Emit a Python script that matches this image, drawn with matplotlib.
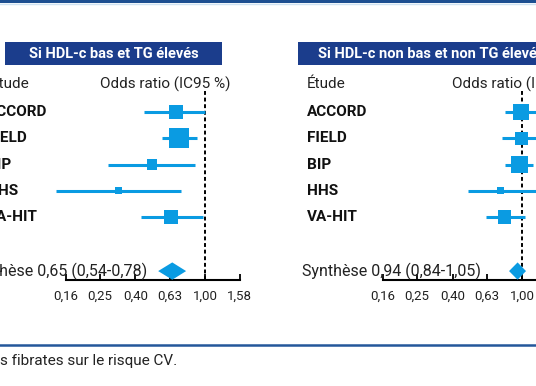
import numpy as np
import matplotlib.pyplot as plt
from matplotlib.patches import Rectangle, Polygon
from matplotlib.transforms import blended_transform_factory
from matplotlib.ticker import NullLocator

plt.rcParams['font.family'] = ['Roboto', 'DejaVu Sans']

# data
etudes = ["ACCORD", "FIELD", "BIP", "HHS", "VA-HIT"]
ticks = [0.16, 0.25, 0.40, 0.63, 1.00, 1.58]
tick_labels = ["0,16", "0,25", "0,40", "0,63", "1,00", "1,58"]

# Si HDL-c bas et TG eleves
or_g = [0.68, 0.71, 0.50, 0.32, 0.64]
bas_g = [0.45, 0.57, 0.28, 0.14, 0.43]
haut_g = [1.00, 0.90, 0.88, 0.73, 0.97]
poids_g = [21, 43, 11, 5, 21]
synth_g = [0.65, 0.54, 0.78]

# Si HDL-c non bas et non TG eleves
or_d = [0.98, 0.99, 0.96, 0.75, 0.79]
bas_d = [0.80, 0.77, 0.80, 0.49, 0.62]
haut_d = [1.20, 1.27, 1.15, 1.20, 1.04]
poids_d = [27, 19, 31, 5, 18]
synth_d = [0.94, 0.84, 1.05]

blue = "#0a9be2"
navy = "#1b3d8c"

W, H = 536, 386
fig = plt.figure(figsize=(W / 100, H / 100), dpi=100)


def fx(px):
    return px / W


def fy(py):
    return 1 - py / H


def panel(x0, x1, one_px, titre, box, hdr_x, lab_x, OR, lo, hi, w, synth, synth_txt, synth_x, ha):
    ax = fig.add_axes([fx(x0), fy(280), (x1 - x0) / W, 190 / H])
    ax.set_xscale('log')
    ax.set_xlim(10 ** ((x0 - one_px) / 175), 10 ** ((x1 - one_px) / 175))
    ax.set_ylim(6.4, -0.84)
    rows = np.arange(len(etudes))

    ax.axvline(1, color='black', ls=(0, (2, 1.4)), lw=1.4, zorder=1)
    ax.hlines(rows, lo, hi, color=blue, lw=2.2, zorder=2)
    ax.scatter(OR, rows, marker='s', s=np.array(w) * 5, color=blue, lw=0, zorder=3)

    c, a, b = synth
    ys = 6.06
    ax.add_patch(Polygon([(a, ys), (c, ys - 0.33), (b, ys), (c, ys + 0.33)],
                         closed=True, color=blue, lw=0, zorder=3))

    for s in ['top', 'left', 'right']:
        ax.spines[s].set_visible(False)
    ax.spines['bottom'].set_bounds(ticks[0], ticks[-1])
    ax.spines['bottom'].set_linewidth(1.5)
    ax.set_xticks(ticks)
    ax.set_xticklabels(tick_labels, fontsize=9.5, color='#222222')
    ax.xaxis.set_minor_locator(NullLocator())
    ax.tick_params(axis='x', direction='in', length=4, width=1.3, pad=7)
    ax.set_yticks([])
    ax.patch.set_visible(False)

    tr = blended_transform_factory(fig.transFigure, ax.transData)
    for i, e in enumerate(etudes):
        fig.text(fx(lab_x), i, e, transform=tr, fontsize=11, fontweight='bold',
                 va='center', ha='left', color='#111111')
    fig.text(fx(synth_x), ys, synth_txt, transform=tr, fontsize=11.5, va='center', ha=ha,
             color='#222222')

    # title box
    fig.patches.append(Rectangle((fx(box[0]), fy(65)), (box[1] - box[0]) / W, 23 / H,
                                 transform=fig.transFigure, color=navy, lw=0))
    fig.text(fx((box[0] + box[1]) / 2), fy(53.5), titre, color='white', fontsize=10.5,
             fontweight='bold', ha='center', va='center')
    fig.text(fx(hdr_x[0]), fy(84), "Étude", fontsize=11, ha='left', va='center', color='#222222')
    fig.text(fx(hdr_x[1]), fy(84), "Odds ratio (IC95 %)", fontsize=11, ha='left', va='center',
             color='#222222')
    return ax


panel(-30, 262, 205, "Si HDL-c bas et TG élevés", (5, 222), (-9, 100), -13,
      or_g, bas_g, haut_g, poids_g, synth_g, "Synthèse 0,65 (0,54-0,78)", 147, 'right')
panel(285, 620, 522.3, "Si HDL-c non bas et non TG élevés", (298, 565), (307, 451.7), 307,
      or_d, bas_d, haut_d, poids_d, synth_d, "Synthèse 0,94 (0,84-1,05)", 302, 'left')

# rules and caption
fig.add_artist(plt.Line2D([0, 1], [fy(1.2), fy(1.2)], color="#1d4f91", lw=2.2,
                          transform=fig.transFigure))
fig.add_artist(plt.Line2D([0, 1], [fy(3.5), fy(3.5)], color="#cfe3f3", lw=1,
                          transform=fig.transFigure))
fig.add_artist(plt.Line2D([0, 1], [fy(345), fy(345)], color="#24579a", lw=1.8,
                          transform=fig.transFigure))
fig.text(fx(0), fy(361), "s fibrates sur le risque CV.", fontsize=11, ha='left', va='center',
         color='#222222')

fig.savefig("out.png", dpi=100)
